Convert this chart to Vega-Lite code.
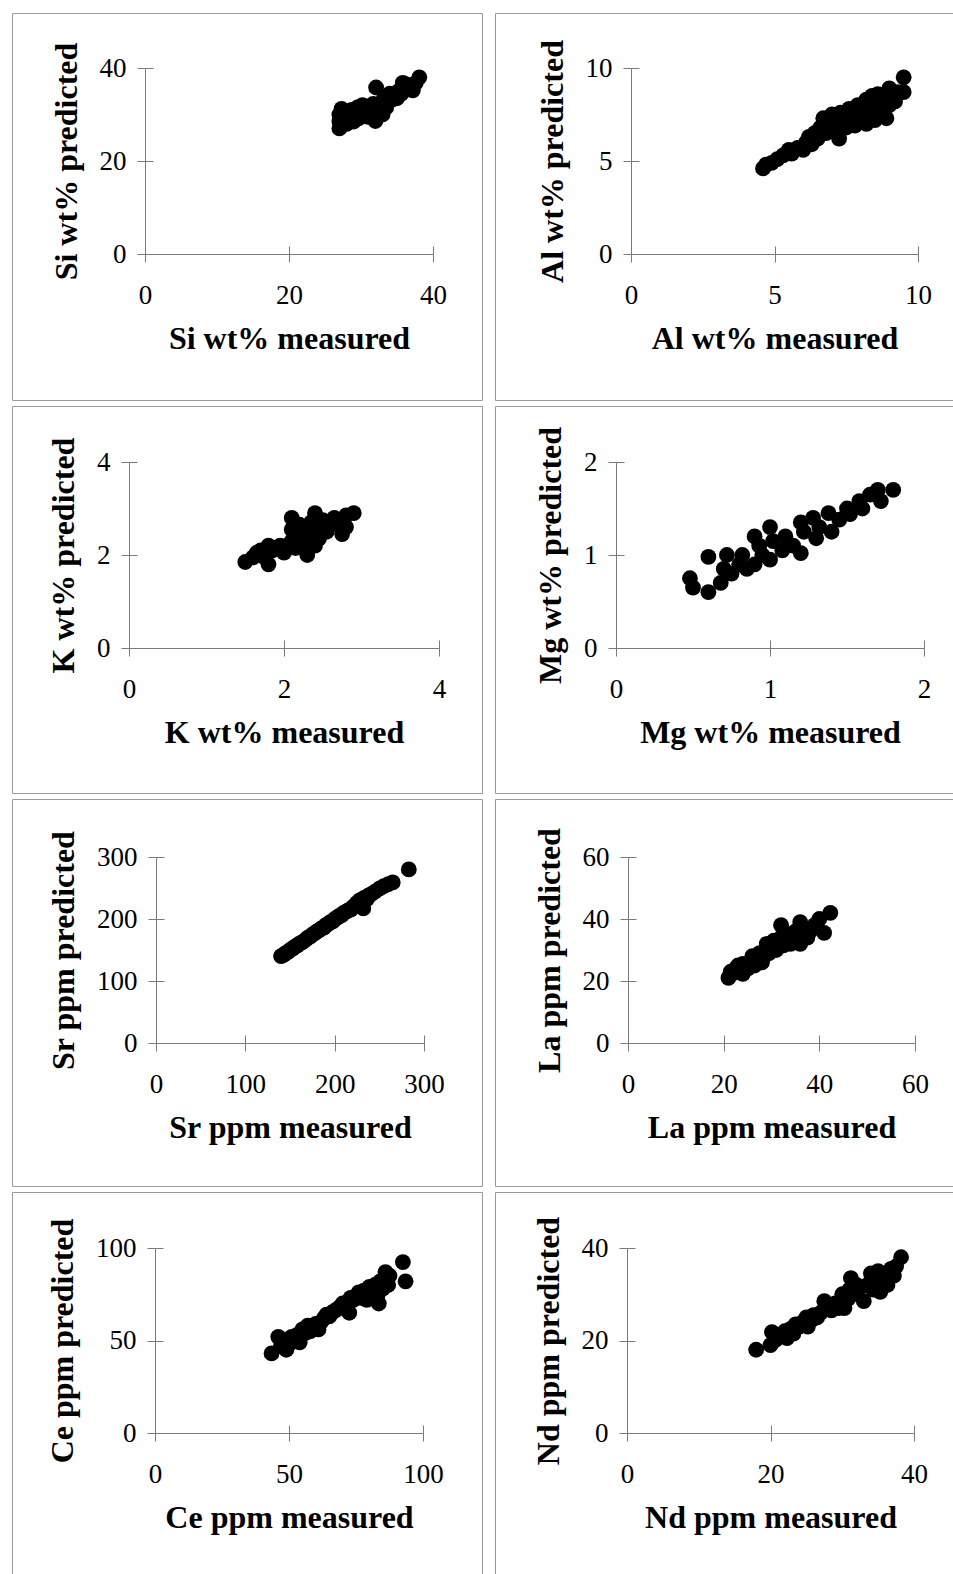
{
  "$schema": "https://vega.github.io/schema/vega-lite/v6.json",
  "padding": {"left": 11, "top": 12, "right": 0, "bottom": 0},
  "bounds": "flush",
  "columns": 2,
  "spacing": {"row": 6, "column": 13},
  "config": {
    "view": {"stroke": "#9a9a9a", "strokeWidth": 1},
    "axis": {
      "grid": false,
      "domainColor": "#7a7a7a",
      "tickColor": "#7a7a7a",
      "domainWidth": 1,
      "tickWidth": 1,
      "tickSize": 8,
      "labelFont": "Liberation Serif",
      "labelFontSize": 27,
      "labelColor": "#000000",
      "labelFlush": false,
      "labelOverlap": false,
      "titleFont": "Liberation Serif",
      "titleFontSize": 32,
      "titleFontWeight": "bold",
      "titleColor": "#000000"
    },
    "axisX": {"labelPadding": 20, "titlePadding": 15},
    "axisY": {"labelPadding": 11, "titlePadding": 16}
  },
  "datasets": {
    "pts": [
      {"element": "Si", "measured": 27, "predicted": 27},
      {"element": "Si", "measured": 27, "predicted": 28.5},
      {"element": "Si", "measured": 27, "predicted": 30},
      {"element": "Si", "measured": 27.3, "predicted": 31.2},
      {"element": "Si", "measured": 27.5, "predicted": 29},
      {"element": "Si", "measured": 28, "predicted": 28},
      {"element": "Si", "measured": 28, "predicted": 30.5},
      {"element": "Si", "measured": 28.3, "predicted": 29.5},
      {"element": "Si", "measured": 28.7, "predicted": 31},
      {"element": "Si", "measured": 29, "predicted": 28.5},
      {"element": "Si", "measured": 29, "predicted": 30},
      {"element": "Si", "measured": 29.5, "predicted": 31.5},
      {"element": "Si", "measured": 29.7, "predicted": 29.2},
      {"element": "Si", "measured": 30, "predicted": 30.5},
      {"element": "Si", "measured": 30.2, "predicted": 32},
      {"element": "Si", "measured": 30.5, "predicted": 31},
      {"element": "Si", "measured": 31, "predicted": 29.5},
      {"element": "Si", "measured": 31, "predicted": 31.5},
      {"element": "Si", "measured": 31.3, "predicted": 30.5},
      {"element": "Si", "measured": 31.7, "predicted": 32.3},
      {"element": "Si", "measured": 32, "predicted": 28.6},
      {"element": "Si", "measured": 32, "predicted": 30},
      {"element": "Si", "measured": 32.1, "predicted": 35.8},
      {"element": "Si", "measured": 32.5, "predicted": 31},
      {"element": "Si", "measured": 32.8, "predicted": 32.5},
      {"element": "Si", "measured": 33, "predicted": 30},
      {"element": "Si", "measured": 33.2, "predicted": 33.5},
      {"element": "Si", "measured": 33.5, "predicted": 31.5},
      {"element": "Si", "measured": 33.8, "predicted": 32.8},
      {"element": "Si", "measured": 34, "predicted": 34.5},
      {"element": "Si", "measured": 34.3, "predicted": 33.2},
      {"element": "Si", "measured": 34.7, "predicted": 34},
      {"element": "Si", "measured": 35, "predicted": 33.5},
      {"element": "Si", "measured": 35.2, "predicted": 35},
      {"element": "Si", "measured": 35.6, "predicted": 34.5},
      {"element": "Si", "measured": 35.8, "predicted": 36.8},
      {"element": "Si", "measured": 36, "predicted": 35.2},
      {"element": "Si", "measured": 36.2, "predicted": 36.5},
      {"element": "Si", "measured": 36.6, "predicted": 35.5},
      {"element": "Si", "measured": 37, "predicted": 36},
      {"element": "Si", "measured": 37.2, "predicted": 35.2},
      {"element": "Si", "measured": 37.6, "predicted": 36.8},
      {"element": "Si", "measured": 38.1, "predicted": 38},

      {"element": "Al", "measured": 4.6, "predicted": 4.6},
      {"element": "Al", "measured": 4.7, "predicted": 4.8},
      {"element": "Al", "measured": 4.9, "predicted": 4.9},
      {"element": "Al", "measured": 5.1, "predicted": 5.1},
      {"element": "Al", "measured": 5.3, "predicted": 5.3},
      {"element": "Al", "measured": 5.5, "predicted": 5.6},
      {"element": "Al", "measured": 5.6, "predicted": 5.4},
      {"element": "Al", "measured": 5.8, "predicted": 5.7},
      {"element": "Al", "measured": 6.0, "predicted": 5.6},
      {"element": "Al", "measured": 6.1, "predicted": 6.0},
      {"element": "Al", "measured": 6.2, "predicted": 6.3},
      {"element": "Al", "measured": 6.3, "predicted": 5.9},
      {"element": "Al", "measured": 6.4, "predicted": 6.5},
      {"element": "Al", "measured": 6.5, "predicted": 6.2},
      {"element": "Al", "measured": 6.6, "predicted": 6.8},
      {"element": "Al", "measured": 6.7, "predicted": 7.3},
      {"element": "Al", "measured": 6.8, "predicted": 6.5},
      {"element": "Al", "measured": 6.9, "predicted": 7.0},
      {"element": "Al", "measured": 7.0, "predicted": 7.5},
      {"element": "Al", "measured": 7.0, "predicted": 6.7},
      {"element": "Al", "measured": 7.1, "predicted": 7.2},
      {"element": "Al", "measured": 7.2, "predicted": 6.9},
      {"element": "Al", "measured": 7.25, "predicted": 6.2},
      {"element": "Al", "measured": 7.3, "predicted": 7.6},
      {"element": "Al", "measured": 7.4, "predicted": 7.0},
      {"element": "Al", "measured": 7.5, "predicted": 7.4},
      {"element": "Al", "measured": 7.5, "predicted": 6.8},
      {"element": "Al", "measured": 7.6, "predicted": 7.8},
      {"element": "Al", "measured": 7.7, "predicted": 7.2},
      {"element": "Al", "measured": 7.8, "predicted": 7.6},
      {"element": "Al", "measured": 7.8, "predicted": 6.9},
      {"element": "Al", "measured": 7.9, "predicted": 8.0},
      {"element": "Al", "measured": 8.0, "predicted": 7.3},
      {"element": "Al", "measured": 8.1, "predicted": 7.7},
      {"element": "Al", "measured": 8.2, "predicted": 8.3},
      {"element": "Al", "measured": 8.2, "predicted": 7.0},
      {"element": "Al", "measured": 8.3, "predicted": 7.5},
      {"element": "Al", "measured": 8.4, "predicted": 8.5},
      {"element": "Al", "measured": 8.4, "predicted": 7.9},
      {"element": "Al", "measured": 8.5, "predicted": 7.2},
      {"element": "Al", "measured": 8.6, "predicted": 8.1},
      {"element": "Al", "measured": 8.6, "predicted": 8.6},
      {"element": "Al", "measured": 8.7, "predicted": 7.6},
      {"element": "Al", "measured": 8.8, "predicted": 8.3},
      {"element": "Al", "measured": 8.9, "predicted": 7.3},
      {"element": "Al", "measured": 9.0, "predicted": 8.9},
      {"element": "Al", "measured": 9.0, "predicted": 8.0},
      {"element": "Al", "measured": 9.2, "predicted": 8.2},
      {"element": "Al", "measured": 9.3, "predicted": 8.7},
      {"element": "Al", "measured": 9.5, "predicted": 8.7},
      {"element": "Al", "measured": 9.5, "predicted": 9.5},

      {"element": "K", "measured": 1.5, "predicted": 1.85},
      {"element": "K", "measured": 1.6, "predicted": 1.95},
      {"element": "K", "measured": 1.65, "predicted": 2.05},
      {"element": "K", "measured": 1.7, "predicted": 2.1},
      {"element": "K", "measured": 1.75, "predicted": 1.95},
      {"element": "K", "measured": 1.8, "predicted": 1.8},
      {"element": "K", "measured": 1.8, "predicted": 2.2},
      {"element": "K", "measured": 1.85, "predicted": 2.1},
      {"element": "K", "measured": 1.9, "predicted": 2.15},
      {"element": "K", "measured": 1.95, "predicted": 2.2},
      {"element": "K", "measured": 2.0, "predicted": 2.05},
      {"element": "K", "measured": 2.05, "predicted": 2.2},
      {"element": "K", "measured": 2.1, "predicted": 2.8},
      {"element": "K", "measured": 2.1, "predicted": 2.55},
      {"element": "K", "measured": 2.1, "predicted": 2.3},
      {"element": "K", "measured": 2.15, "predicted": 2.15},
      {"element": "K", "measured": 2.2, "predicted": 2.35},
      {"element": "K", "measured": 2.2, "predicted": 2.65},
      {"element": "K", "measured": 2.25, "predicted": 2.2},
      {"element": "K", "measured": 2.3, "predicted": 2.0},
      {"element": "K", "measured": 2.3, "predicted": 2.45},
      {"element": "K", "measured": 2.35, "predicted": 2.7},
      {"element": "K", "measured": 2.4, "predicted": 2.9},
      {"element": "K", "measured": 2.4, "predicted": 2.5},
      {"element": "K", "measured": 2.4, "predicted": 2.2},
      {"element": "K", "measured": 2.45, "predicted": 2.35},
      {"element": "K", "measured": 2.5, "predicted": 2.6},
      {"element": "K", "measured": 2.5, "predicted": 2.75},
      {"element": "K", "measured": 2.55, "predicted": 2.5},
      {"element": "K", "measured": 2.6, "predicted": 2.65},
      {"element": "K", "measured": 2.65, "predicted": 2.8},
      {"element": "K", "measured": 2.7, "predicted": 2.75},
      {"element": "K", "measured": 2.75, "predicted": 2.45},
      {"element": "K", "measured": 2.8, "predicted": 2.6},
      {"element": "K", "measured": 2.8, "predicted": 2.85},
      {"element": "K", "measured": 2.9, "predicted": 2.9},

      {"element": "Mg", "measured": 0.48, "predicted": 0.75},
      {"element": "Mg", "measured": 0.5, "predicted": 0.65},
      {"element": "Mg", "measured": 0.6, "predicted": 0.6},
      {"element": "Mg", "measured": 0.6, "predicted": 0.98},
      {"element": "Mg", "measured": 0.68, "predicted": 0.7},
      {"element": "Mg", "measured": 0.7, "predicted": 0.85},
      {"element": "Mg", "measured": 0.72, "predicted": 1.0},
      {"element": "Mg", "measured": 0.75, "predicted": 0.8},
      {"element": "Mg", "measured": 0.8, "predicted": 0.9},
      {"element": "Mg", "measured": 0.82, "predicted": 1.0},
      {"element": "Mg", "measured": 0.85, "predicted": 0.85},
      {"element": "Mg", "measured": 0.9, "predicted": 0.9},
      {"element": "Mg", "measured": 0.9, "predicted": 1.2},
      {"element": "Mg", "measured": 0.93, "predicted": 1.1},
      {"element": "Mg", "measured": 0.95, "predicted": 1.0},
      {"element": "Mg", "measured": 1.0, "predicted": 1.3},
      {"element": "Mg", "measured": 1.0, "predicted": 0.95},
      {"element": "Mg", "measured": 1.02, "predicted": 1.15},
      {"element": "Mg", "measured": 1.08, "predicted": 1.05},
      {"element": "Mg", "measured": 1.1, "predicted": 1.2},
      {"element": "Mg", "measured": 1.15, "predicted": 1.1},
      {"element": "Mg", "measured": 1.2, "predicted": 1.02},
      {"element": "Mg", "measured": 1.2, "predicted": 1.35},
      {"element": "Mg", "measured": 1.22, "predicted": 1.25},
      {"element": "Mg", "measured": 1.28, "predicted": 1.4},
      {"element": "Mg", "measured": 1.3, "predicted": 1.18},
      {"element": "Mg", "measured": 1.32, "predicted": 1.3},
      {"element": "Mg", "measured": 1.38, "predicted": 1.45},
      {"element": "Mg", "measured": 1.4, "predicted": 1.25},
      {"element": "Mg", "measured": 1.45, "predicted": 1.38},
      {"element": "Mg", "measured": 1.5, "predicted": 1.5},
      {"element": "Mg", "measured": 1.52, "predicted": 1.44},
      {"element": "Mg", "measured": 1.58, "predicted": 1.58},
      {"element": "Mg", "measured": 1.6, "predicted": 1.5},
      {"element": "Mg", "measured": 1.65, "predicted": 1.65},
      {"element": "Mg", "measured": 1.7, "predicted": 1.7},
      {"element": "Mg", "measured": 1.72, "predicted": 1.58},
      {"element": "Mg", "measured": 1.8, "predicted": 1.7},

      {"element": "Sr", "measured": 140, "predicted": 140},
      {"element": "Sr", "measured": 143, "predicted": 142},
      {"element": "Sr", "measured": 145, "predicted": 145},
      {"element": "Sr", "measured": 148, "predicted": 147},
      {"element": "Sr", "measured": 150, "predicted": 150},
      {"element": "Sr", "measured": 153, "predicted": 152},
      {"element": "Sr", "measured": 155, "predicted": 155},
      {"element": "Sr", "measured": 158, "predicted": 157},
      {"element": "Sr", "measured": 160, "predicted": 160},
      {"element": "Sr", "measured": 163, "predicted": 162},
      {"element": "Sr", "measured": 165, "predicted": 164},
      {"element": "Sr", "measured": 168, "predicted": 167},
      {"element": "Sr", "measured": 170, "predicted": 170},
      {"element": "Sr", "measured": 173, "predicted": 172},
      {"element": "Sr", "measured": 175, "predicted": 175},
      {"element": "Sr", "measured": 178, "predicted": 177},
      {"element": "Sr", "measured": 180, "predicted": 180},
      {"element": "Sr", "measured": 183, "predicted": 182},
      {"element": "Sr", "measured": 185, "predicted": 185},
      {"element": "Sr", "measured": 188, "predicted": 186},
      {"element": "Sr", "measured": 190, "predicted": 190},
      {"element": "Sr", "measured": 193, "predicted": 192},
      {"element": "Sr", "measured": 195, "predicted": 195},
      {"element": "Sr", "measured": 198, "predicted": 196},
      {"element": "Sr", "measured": 200, "predicted": 200},
      {"element": "Sr", "measured": 203, "predicted": 202},
      {"element": "Sr", "measured": 205, "predicted": 205},
      {"element": "Sr", "measured": 208, "predicted": 206},
      {"element": "Sr", "measured": 210, "predicted": 210},
      {"element": "Sr", "measured": 213, "predicted": 212},
      {"element": "Sr", "measured": 215, "predicted": 214},
      {"element": "Sr", "measured": 218, "predicted": 215},
      {"element": "Sr", "measured": 220, "predicted": 219},
      {"element": "Sr", "measured": 223, "predicted": 222},
      {"element": "Sr", "measured": 225, "predicted": 226},
      {"element": "Sr", "measured": 228, "predicted": 230},
      {"element": "Sr", "measured": 230, "predicted": 226},
      {"element": "Sr", "measured": 232, "predicted": 217},
      {"element": "Sr", "measured": 233, "predicted": 234},
      {"element": "Sr", "measured": 236, "predicted": 232},
      {"element": "Sr", "measured": 238, "predicted": 238},
      {"element": "Sr", "measured": 241, "predicted": 240},
      {"element": "Sr", "measured": 245, "predicted": 244},
      {"element": "Sr", "measured": 250, "predicted": 249},
      {"element": "Sr", "measured": 255, "predicted": 253},
      {"element": "Sr", "measured": 260, "predicted": 256},
      {"element": "Sr", "measured": 265, "predicted": 259},
      {"element": "Sr", "measured": 283, "predicted": 280},

      {"element": "La", "measured": 21, "predicted": 21},
      {"element": "La", "measured": 21.5, "predicted": 23},
      {"element": "La", "measured": 22, "predicted": 22.5},
      {"element": "La", "measured": 22.5, "predicted": 24},
      {"element": "La", "measured": 23, "predicted": 25},
      {"element": "La", "measured": 23.5, "predicted": 23},
      {"element": "La", "measured": 24, "predicted": 22.3},
      {"element": "La", "measured": 24, "predicted": 25.5},
      {"element": "La", "measured": 25, "predicted": 24},
      {"element": "La", "measured": 25.5, "predicted": 26},
      {"element": "La", "measured": 26, "predicted": 28},
      {"element": "La", "measured": 26.5, "predicted": 25},
      {"element": "La", "measured": 27, "predicted": 27},
      {"element": "La", "measured": 27.5, "predicted": 29},
      {"element": "La", "measured": 28, "predicted": 26},
      {"element": "La", "measured": 28.5, "predicted": 28},
      {"element": "La", "measured": 29, "predicted": 30},
      {"element": "La", "measured": 29, "predicted": 32},
      {"element": "La", "measured": 29.5, "predicted": 29},
      {"element": "La", "measured": 30, "predicted": 31},
      {"element": "La", "measured": 30.5, "predicted": 33},
      {"element": "La", "measured": 31, "predicted": 30},
      {"element": "La", "measured": 31.5, "predicted": 32},
      {"element": "La", "measured": 32, "predicted": 38},
      {"element": "La", "measured": 32, "predicted": 34},
      {"element": "La", "measured": 32.5, "predicted": 31.5},
      {"element": "La", "measured": 33, "predicted": 33},
      {"element": "La", "measured": 33.5, "predicted": 35},
      {"element": "La", "measured": 34, "predicted": 32},
      {"element": "La", "measured": 34.5, "predicted": 34},
      {"element": "La", "measured": 35, "predicted": 36},
      {"element": "La", "measured": 35.5, "predicted": 33},
      {"element": "La", "measured": 36, "predicted": 39},
      {"element": "La", "measured": 36, "predicted": 32},
      {"element": "La", "measured": 36.5, "predicted": 35},
      {"element": "La", "measured": 37, "predicted": 37},
      {"element": "La", "measured": 37.5, "predicted": 34},
      {"element": "La", "measured": 38, "predicted": 36},
      {"element": "La", "measured": 39, "predicted": 38},
      {"element": "La", "measured": 40, "predicted": 40},
      {"element": "La", "measured": 41, "predicted": 35.5},
      {"element": "La", "measured": 42.3, "predicted": 42},

      {"element": "Ce", "measured": 43.5, "predicted": 43},
      {"element": "Ce", "measured": 46, "predicted": 52},
      {"element": "Ce", "measured": 47, "predicted": 47},
      {"element": "Ce", "measured": 48, "predicted": 50},
      {"element": "Ce", "measured": 49, "predicted": 45},
      {"element": "Ce", "measured": 50, "predicted": 48},
      {"element": "Ce", "measured": 51, "predicted": 52},
      {"element": "Ce", "measured": 52, "predicted": 50},
      {"element": "Ce", "measured": 53, "predicted": 53},
      {"element": "Ce", "measured": 54, "predicted": 49},
      {"element": "Ce", "measured": 55, "predicted": 56},
      {"element": "Ce", "measured": 56, "predicted": 54},
      {"element": "Ce", "measured": 57, "predicted": 58},
      {"element": "Ce", "measured": 58, "predicted": 55},
      {"element": "Ce", "measured": 59, "predicted": 57},
      {"element": "Ce", "measured": 60, "predicted": 59},
      {"element": "Ce", "measured": 61, "predicted": 56},
      {"element": "Ce", "measured": 62, "predicted": 60},
      {"element": "Ce", "measured": 63, "predicted": 62},
      {"element": "Ce", "measured": 64, "predicted": 64},
      {"element": "Ce", "measured": 65, "predicted": 63},
      {"element": "Ce", "measured": 66, "predicted": 65},
      {"element": "Ce", "measured": 67, "predicted": 66},
      {"element": "Ce", "measured": 68, "predicted": 67},
      {"element": "Ce", "measured": 69, "predicted": 68},
      {"element": "Ce", "measured": 70, "predicted": 70},
      {"element": "Ce", "measured": 71, "predicted": 69},
      {"element": "Ce", "measured": 72, "predicted": 71},
      {"element": "Ce", "measured": 72.5, "predicted": 65},
      {"element": "Ce", "measured": 73, "predicted": 73},
      {"element": "Ce", "measured": 74, "predicted": 72},
      {"element": "Ce", "measured": 75, "predicted": 74},
      {"element": "Ce", "measured": 76, "predicted": 76},
      {"element": "Ce", "measured": 77, "predicted": 73},
      {"element": "Ce", "measured": 78, "predicted": 77},
      {"element": "Ce", "measured": 79, "predicted": 72},
      {"element": "Ce", "measured": 80, "predicted": 79},
      {"element": "Ce", "measured": 81, "predicted": 76},
      {"element": "Ce", "measured": 82, "predicted": 80},
      {"element": "Ce", "measured": 83, "predicted": 74},
      {"element": "Ce", "measured": 83.5, "predicted": 70},
      {"element": "Ce", "measured": 84, "predicted": 82},
      {"element": "Ce", "measured": 85, "predicted": 78},
      {"element": "Ce", "measured": 86, "predicted": 87},
      {"element": "Ce", "measured": 87, "predicted": 80},
      {"element": "Ce", "measured": 87.5, "predicted": 85},
      {"element": "Ce", "measured": 92.5, "predicted": 92.4},
      {"element": "Ce", "measured": 93.5, "predicted": 82},

      {"element": "Nd", "measured": 18, "predicted": 18},
      {"element": "Nd", "measured": 20, "predicted": 19},
      {"element": "Nd", "measured": 20.2, "predicted": 21.8},
      {"element": "Nd", "measured": 20.6, "predicted": 20},
      {"element": "Nd", "measured": 21, "predicted": 20.5},
      {"element": "Nd", "measured": 21.5, "predicted": 21},
      {"element": "Nd", "measured": 22, "predicted": 22},
      {"element": "Nd", "measured": 22.3, "predicted": 20.5},
      {"element": "Nd", "measured": 22.8, "predicted": 22.5},
      {"element": "Nd", "measured": 23.2, "predicted": 21.5},
      {"element": "Nd", "measured": 23.5, "predicted": 23.5},
      {"element": "Nd", "measured": 24, "predicted": 23},
      {"element": "Nd", "measured": 24.5, "predicted": 24},
      {"element": "Nd", "measured": 25, "predicted": 25},
      {"element": "Nd", "measured": 25.2, "predicted": 23},
      {"element": "Nd", "measured": 25.8, "predicted": 24.5},
      {"element": "Nd", "measured": 26, "predicted": 25.5},
      {"element": "Nd", "measured": 26.5, "predicted": 25},
      {"element": "Nd", "measured": 27, "predicted": 26},
      {"element": "Nd", "measured": 27.5, "predicted": 28.5},
      {"element": "Nd", "measured": 28, "predicted": 27},
      {"element": "Nd", "measured": 28.5, "predicted": 26.5},
      {"element": "Nd", "measured": 29, "predicted": 28},
      {"element": "Nd", "measured": 29.5, "predicted": 27},
      {"element": "Nd", "measured": 30, "predicted": 30},
      {"element": "Nd", "measured": 30.3, "predicted": 27},
      {"element": "Nd", "measured": 30.8, "predicted": 29},
      {"element": "Nd", "measured": 31, "predicted": 31},
      {"element": "Nd", "measured": 31.2, "predicted": 33.5},
      {"element": "Nd", "measured": 31.5, "predicted": 30},
      {"element": "Nd", "measured": 32, "predicted": 32},
      {"element": "Nd", "measured": 32.5, "predicted": 31.5},
      {"element": "Nd", "measured": 33, "predicted": 28.5},
      {"element": "Nd", "measured": 33.5, "predicted": 32},
      {"element": "Nd", "measured": 34, "predicted": 34.5},
      {"element": "Nd", "measured": 34.3, "predicted": 31},
      {"element": "Nd", "measured": 34.8, "predicted": 33},
      {"element": "Nd", "measured": 35, "predicted": 35},
      {"element": "Nd", "measured": 35.3, "predicted": 30.5},
      {"element": "Nd", "measured": 35.6, "predicted": 32.5},
      {"element": "Nd", "measured": 36, "predicted": 34},
      {"element": "Nd", "measured": 36.3, "predicted": 32},
      {"element": "Nd", "measured": 36.8, "predicted": 35.5},
      {"element": "Nd", "measured": 37.2, "predicted": 34},
      {"element": "Nd", "measured": 37.5, "predicted": 36},
      {"element": "Nd", "measured": 38.2, "predicted": 38}
    ]
  },
  "data": {"name": "pts"},
  "concat": [
    {
      "width": 470, "height": 387,
      "transform": [{"filter": "datum.element == 'Si'"}],
      "layer": [
        {
          "mark": {"type": "circle", "size": 250, "color": "#000000", "opacity": 1},
          "encoding": {
            "x": {"field": "measured", "type": "quantitative", "scale": {"domain": [0, 40], "range": [133, 421], "nice": false}, "axis": {"title": "Si wt% measured", "values": [0, 20, 40], "offset": -146}},
            "y": {"field": "predicted", "type": "quantitative", "scale": {"domain": [0, 40], "range": [241, 55], "nice": false}, "axis": {"title": "Si wt% predicted", "values": [0, 20, 40], "offset": -133}}
          }
        },
        {
          "mark": {"type": "circle", "opacity": 0},
          "encoding": {
            "x": {"field": "measured", "type": "quantitative", "scale": {"domain": [0, 40], "range": [133, 421], "nice": false}, "axis": {"orient": "bottom", "title": null, "labels": false, "domain": false, "tickSize": -8, "values": [0, 20, 40], "offset": -146}},
            "y": {"field": "predicted", "type": "quantitative", "scale": {"domain": [0, 40], "range": [241, 55], "nice": false}, "axis": {"orient": "left", "title": null, "labels": false, "domain": false, "tickSize": -8, "values": [0, 20, 40], "offset": -133}}
          }
        }
      ],
      "resolve": {"axis": {"x": "independent", "y": "independent"}}
    },
    {
      "width": 459, "height": 387,
      "transform": [{"filter": "datum.element == 'Al'"}],
      "layer": [
        {
          "mark": {"type": "circle", "size": 250, "color": "#000000", "opacity": 1},
          "encoding": {
            "x": {"field": "measured", "type": "quantitative", "scale": {"domain": [0, 10], "range": [136, 423], "nice": false}, "axis": {"title": "Al wt% measured", "values": [0, 5, 10], "offset": -146}},
            "y": {"field": "predicted", "type": "quantitative", "scale": {"domain": [0, 10], "range": [241, 55], "nice": false}, "axis": {"title": "Al wt% predicted", "values": [0, 5, 10], "offset": -136}}
          }
        },
        {
          "mark": {"type": "circle", "opacity": 0},
          "encoding": {
            "x": {"field": "measured", "type": "quantitative", "scale": {"domain": [0, 10], "range": [136, 423], "nice": false}, "axis": {"orient": "bottom", "title": null, "labels": false, "domain": false, "tickSize": -8, "values": [0, 5, 10], "offset": -146}},
            "y": {"field": "predicted", "type": "quantitative", "scale": {"domain": [0, 10], "range": [241, 55], "nice": false}, "axis": {"orient": "left", "title": null, "labels": false, "domain": false, "tickSize": -8, "values": [0, 5, 10], "offset": -136}}
          }
        }
      ],
      "resolve": {"axis": {"x": "independent", "y": "independent"}}
    },
    {
      "width": 470, "height": 387,
      "transform": [{"filter": "datum.element == 'K'"}],
      "layer": [
        {
          "mark": {"type": "circle", "size": 250, "color": "#000000", "opacity": 1},
          "encoding": {
            "x": {"field": "measured", "type": "quantitative", "scale": {"domain": [0, 4], "range": [117, 427], "nice": false}, "axis": {"title": "K wt% measured", "values": [0, 2, 4], "offset": -145}},
            "y": {"field": "predicted", "type": "quantitative", "scale": {"domain": [0, 4], "range": [242, 56], "nice": false}, "axis": {"title": "K wt% predicted", "values": [0, 2, 4], "offset": -117}}
          }
        },
        {
          "mark": {"type": "circle", "opacity": 0},
          "encoding": {
            "x": {"field": "measured", "type": "quantitative", "scale": {"domain": [0, 4], "range": [117, 427], "nice": false}, "axis": {"orient": "bottom", "title": null, "labels": false, "domain": false, "tickSize": -8, "values": [0, 2, 4], "offset": -145}},
            "y": {"field": "predicted", "type": "quantitative", "scale": {"domain": [0, 4], "range": [242, 56], "nice": false}, "axis": {"orient": "left", "title": null, "labels": false, "domain": false, "tickSize": -8, "values": [0, 2, 4], "offset": -117}}
          }
        }
      ],
      "resolve": {"axis": {"x": "independent", "y": "independent"}}
    },
    {
      "width": 459, "height": 387,
      "transform": [{"filter": "datum.element == 'Mg'"}],
      "layer": [
        {
          "mark": {"type": "circle", "size": 250, "color": "#000000", "opacity": 1},
          "encoding": {
            "x": {"field": "measured", "type": "quantitative", "scale": {"domain": [0, 2], "range": [121, 429], "nice": false}, "axis": {"title": "Mg wt% measured", "values": [0, 1, 2], "labelExpr": "datum.value == 0 ? '0' : datum.value == 1 ? '1' : '2'", "offset": -145}},
            "y": {"field": "predicted", "type": "quantitative", "scale": {"domain": [0, 2], "range": [242, 56], "nice": false}, "axis": {"title": "Mg wt% predicted", "values": [0, 1, 2], "labelExpr": "datum.value == 0 ? '0' : datum.value == 1 ? '1' : '2'", "offset": -121}}
          }
        },
        {
          "mark": {"type": "circle", "opacity": 0},
          "encoding": {
            "x": {"field": "measured", "type": "quantitative", "scale": {"domain": [0, 2], "range": [121, 429], "nice": false}, "axis": {"orient": "bottom", "title": null, "labels": false, "domain": false, "tickSize": -8, "values": [0, 1, 2], "offset": -145}},
            "y": {"field": "predicted", "type": "quantitative", "scale": {"domain": [0, 2], "range": [242, 56], "nice": false}, "axis": {"orient": "left", "title": null, "labels": false, "domain": false, "tickSize": -8, "values": [0, 1, 2], "offset": -121}}
          }
        }
      ],
      "resolve": {"axis": {"x": "independent", "y": "independent"}}
    },
    {
      "width": 470, "height": 387,
      "transform": [{"filter": "datum.element == 'Sr'"}],
      "layer": [
        {
          "mark": {"type": "circle", "size": 250, "color": "#000000", "opacity": 1},
          "encoding": {
            "x": {"field": "measured", "type": "quantitative", "scale": {"domain": [0, 300], "range": [144, 412], "nice": false}, "axis": {"title": "Sr ppm measured", "values": [0, 100, 200, 300], "offset": -143}},
            "y": {"field": "predicted", "type": "quantitative", "scale": {"domain": [0, 300], "range": [244, 58], "nice": false}, "axis": {"title": "Sr ppm predicted", "values": [0, 100, 200, 300], "offset": -144}}
          }
        },
        {
          "mark": {"type": "circle", "opacity": 0},
          "encoding": {
            "x": {"field": "measured", "type": "quantitative", "scale": {"domain": [0, 300], "range": [144, 412], "nice": false}, "axis": {"orient": "bottom", "title": null, "labels": false, "domain": false, "tickSize": -8, "values": [0, 100, 200, 300], "offset": -143}},
            "y": {"field": "predicted", "type": "quantitative", "scale": {"domain": [0, 300], "range": [244, 58], "nice": false}, "axis": {"orient": "left", "title": null, "labels": false, "domain": false, "tickSize": -8, "values": [0, 100, 200, 300], "offset": -144}}
          }
        }
      ],
      "resolve": {"axis": {"x": "independent", "y": "independent"}}
    },
    {
      "width": 459, "height": 387,
      "transform": [{"filter": "datum.element == 'La'"}],
      "layer": [
        {
          "mark": {"type": "circle", "size": 250, "color": "#000000", "opacity": 1},
          "encoding": {
            "x": {"field": "measured", "type": "quantitative", "scale": {"domain": [0, 60], "range": [133, 420], "nice": false}, "axis": {"title": "La ppm measured", "values": [0, 20, 40, 60], "offset": -143}},
            "y": {"field": "predicted", "type": "quantitative", "scale": {"domain": [0, 60], "range": [244, 58], "nice": false}, "axis": {"title": "La ppm predicted", "values": [0, 20, 40, 60], "offset": -133}}
          }
        },
        {
          "mark": {"type": "circle", "opacity": 0},
          "encoding": {
            "x": {"field": "measured", "type": "quantitative", "scale": {"domain": [0, 60], "range": [133, 420], "nice": false}, "axis": {"orient": "bottom", "title": null, "labels": false, "domain": false, "tickSize": -8, "values": [0, 20, 40, 60], "offset": -143}},
            "y": {"field": "predicted", "type": "quantitative", "scale": {"domain": [0, 60], "range": [244, 58], "nice": false}, "axis": {"orient": "left", "title": null, "labels": false, "domain": false, "tickSize": -8, "values": [0, 20, 40, 60], "offset": -133}}
          }
        }
      ],
      "resolve": {"axis": {"x": "independent", "y": "independent"}}
    },
    {
      "width": 470, "height": 383,
      "transform": [{"filter": "datum.element == 'Ce'"}],
      "layer": [
        {
          "mark": {"type": "circle", "size": 250, "color": "#000000", "opacity": 1},
          "encoding": {
            "x": {"field": "measured", "type": "quantitative", "scale": {"domain": [0, 100], "range": [143, 411], "nice": false}, "axis": {"title": "Ce ppm measured", "values": [0, 50, 100], "offset": -142}},
            "y": {"field": "predicted", "type": "quantitative", "scale": {"domain": [0, 100], "range": [241, 56], "nice": false}, "axis": {"title": "Ce ppm predicted", "values": [0, 50, 100], "offset": -143}}
          }
        },
        {
          "mark": {"type": "circle", "opacity": 0},
          "encoding": {
            "x": {"field": "measured", "type": "quantitative", "scale": {"domain": [0, 100], "range": [143, 411], "nice": false}, "axis": {"orient": "bottom", "title": null, "labels": false, "domain": false, "tickSize": -8, "values": [0, 50, 100], "offset": -142}},
            "y": {"field": "predicted", "type": "quantitative", "scale": {"domain": [0, 100], "range": [241, 56], "nice": false}, "axis": {"orient": "left", "title": null, "labels": false, "domain": false, "tickSize": -8, "values": [0, 50, 100], "offset": -143}}
          }
        }
      ],
      "resolve": {"axis": {"x": "independent", "y": "independent"}}
    },
    {
      "width": 459, "height": 383,
      "transform": [{"filter": "datum.element == 'Nd'"}],
      "layer": [
        {
          "mark": {"type": "circle", "size": 250, "color": "#000000", "opacity": 1},
          "encoding": {
            "x": {"field": "measured", "type": "quantitative", "scale": {"domain": [0, 40], "range": [132, 419], "nice": false}, "axis": {"title": "Nd ppm measured", "values": [0, 20, 40], "offset": -142}},
            "y": {"field": "predicted", "type": "quantitative", "scale": {"domain": [0, 40], "range": [241, 56], "nice": false}, "axis": {"title": "Nd ppm predicted", "values": [0, 20, 40], "offset": -132}}
          }
        },
        {
          "mark": {"type": "circle", "opacity": 0},
          "encoding": {
            "x": {"field": "measured", "type": "quantitative", "scale": {"domain": [0, 40], "range": [132, 419], "nice": false}, "axis": {"orient": "bottom", "title": null, "labels": false, "domain": false, "tickSize": -8, "values": [0, 20, 40], "offset": -142}},
            "y": {"field": "predicted", "type": "quantitative", "scale": {"domain": [0, 40], "range": [241, 56], "nice": false}, "axis": {"orient": "left", "title": null, "labels": false, "domain": false, "tickSize": -8, "values": [0, 20, 40], "offset": -132}}
          }
        }
      ],
      "resolve": {"axis": {"x": "independent", "y": "independent"}}
    }
  ]
}
